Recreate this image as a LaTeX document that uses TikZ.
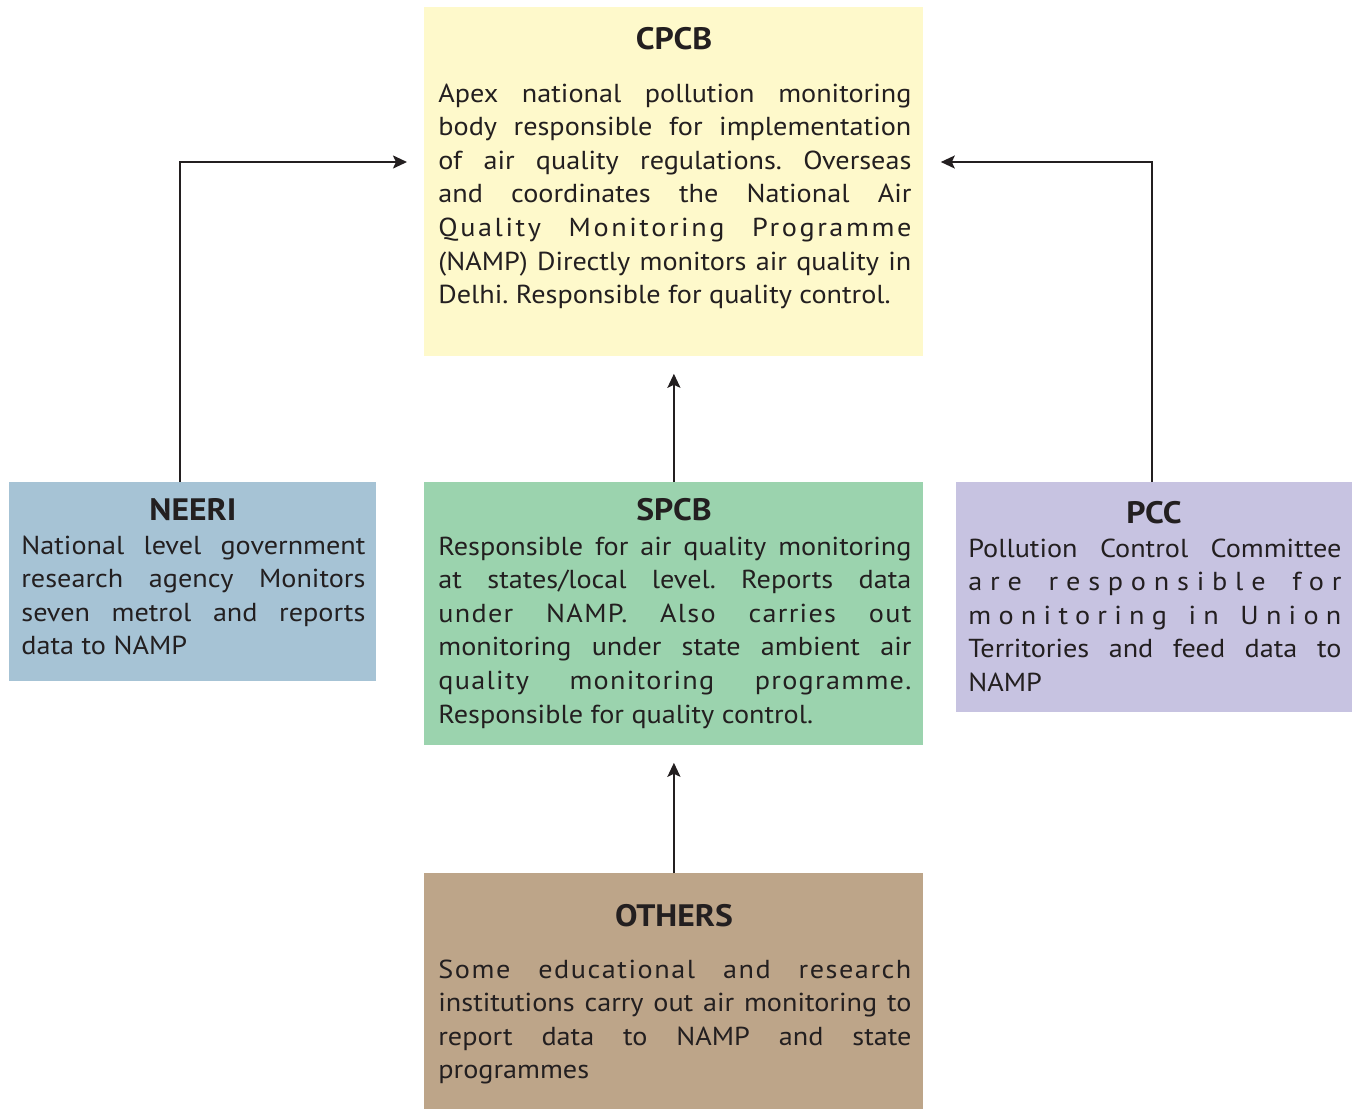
\documentclass[tikz,border=0pt]{standalone}
\usepackage{fontspec}
\setmainfont{PT Sans}[FakeStretch=1.085]
\usetikzlibrary{arrows.meta}
\definecolor{ink}{HTML}{231F20}
\definecolor{cpcbC}{HTML}{FEF9CB}
\definecolor{neeriC}{HTML}{A6C3D5}
\definecolor{spcbC}{HTML}{9BD3AE}
\definecolor{pccC}{HTML}{C7C3E1}
\definecolor{othC}{HTML}{BDA589}
\frenchspacing
\newcommand\jline[1]{\hbox to\hsize{#1}}
\newcommand\lline[1]{\hbox{#1}}
\newcommand\ls[2]{{\addfontfeature{LetterSpace=#1}#2}}
\newcommand\bodytext[2]{\vtop{\hsize=#1\relax\baselineskip=16.8pt\relax #2}}
\tikzset{
  box/.style={fill=#1, draw=none, inner sep=0pt, anchor=north west},
  ttl/.style={anchor=base, inner sep=0pt, text=ink, font=\fontsize{15.5}{18}\selectfont\bfseries},
  body/.style={anchor=base west, inner sep=0pt, text=ink, font=\fontsize{13}{16.8}\selectfont},
  arr/.style={draw=ink, line width=1pt, -{Stealth[length=7pt,width=6.5pt,inset=1.5pt]}, shorten >=8.5pt}
}
\begin{document}
\begin{tikzpicture}[x=0.5pt,y=-0.5pt]
\useasboundingbox (0,0) rectangle (1353,1110);
% boxes
\node[box=cpcbC, minimum width=249.5pt, minimum height=174.5pt] (cpcb) at (424,7) {};
\node[box=neeriC, minimum width=183.5pt, minimum height=99.5pt] (neeri) at (9,482) {};
\node[box=spcbC, minimum width=249.5pt, minimum height=131.5pt] (spcb) at (424,482) {};
\node[box=pccC, minimum width=198pt, minimum height=115pt] (pcc) at (956,482) {};
\node[box=othC, minimum width=249.5pt, minimum height=118pt] (others) at (424,873) {};
% titles
\node[ttl] (cpcbT) at (674,49) {CPCB};
\node[ttl] (neeriT) at (193,520) {NEERI};
\node[ttl] (spcbT) at (674,520) {SPCB};
\node[ttl] (pccT) at (1154,523) {PCC};
\node[ttl] (othT) at (674,926) {OTHERS};
% bodies
\node[body] (cpcbB) at (438,102) {\bodytext{236.5pt}{%
\jline{Apex national pollution monitoring}
\jline{body responsible for implementation}
\jline{of air quality regulations. Overseas}
\jline{and coordinates the National Air}
\jline{\ls{10}{Quality Monitoring Programme}}
\jline{(NAMP) Directly monitors air quality in}
\lline{Delhi. Responsible for quality control.}}};
\node[body] (neeriB) at (21,554) {\bodytext{172pt}{%
\jline{National level government}
\jline{research agency Monitors}
\jline{seven metrol and reports}
\lline{data to NAMP}}};
\node[body] (spcbB) at (438,555) {\bodytext{236.5pt}{%
\jline{Responsible for air quality monitoring}
\jline{at states/local level. Reports data}
\jline{\ls{5}{under NAMP. Also carries out}}
\jline{monitoring under state ambient air}
\jline{\ls{5}{quality monitoring programme.}}
\lline{Responsible for quality control.}}};
\node[body] (pccB) at (968,557) {\bodytext{186.5pt}{%
\jline{Pollution Control Committee}
\jline{\ls{30}{are responsible for}}
\jline{\ls{28}{monitoring in Union}}
\jline{Territories and feed data to}
\lline{NAMP}}};
\node[body] (othB) at (438,978) {\bodytext{236.5pt}{%
\jline{\ls{6}{Some educational and research}}
\jline{institutions carry out air monitoring to}
\jline{report data to NAMP and state}
\lline{programmes}}};
% connectors
\coordinate (k1) at (180,162);
\coordinate (k2) at (1152,162);
\draw[arr] (neeri.north -| k1) |- (cpcb.west |- k1);
\draw[arr] (pcc.north -| k2) |- (cpcb.east |- k2);
\draw[arr] (spcb.north) -- (cpcb.south);
\draw[arr] (others.north) -- (spcb.south);
\end{tikzpicture}
\end{document}
